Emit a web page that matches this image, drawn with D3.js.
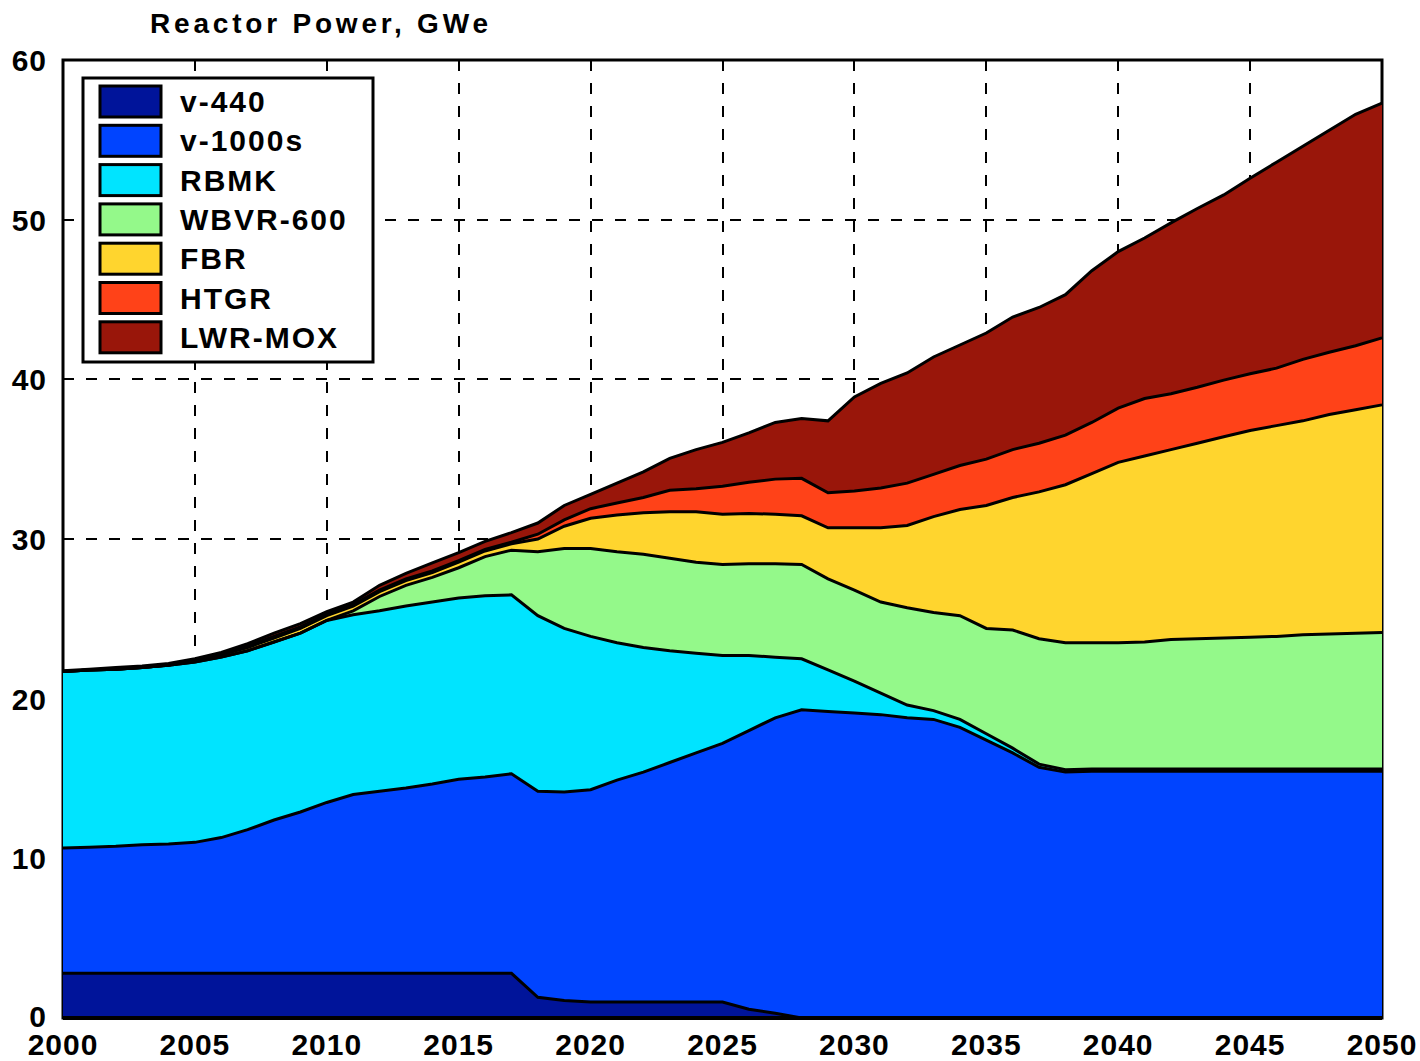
<!DOCTYPE html>
<html>
<head>
<meta charset="utf-8">
<script src="https://cdn.jsdelivr.net/npm/d3@7"></script>
<style>
  body { margin:0; background:#fff; }
  text { font-family:"Liberation Sans", Arial, sans-serif; font-weight:bold; fill:#000; }
</style>
</head>
<body>
<div id="chart"></div>
<script>
// yearly values, GWe, 2000..2050
var years = d3.range(2000, 2051)
var xTicks = [2000,2005,2010,2015,2020,2025,2030,2035,2040,2045,2050]
var yTicks = [0,10,20,30,40,50,60]

var v440 = [2.8,2.8,2.8,2.8,2.8,2.8,2.8,2.8,2.8,2.8,
	    2.8,2.8,2.8,2.8,2.8,2.8,2.8,2.8,1.3,1.1,
	    1.0,1.0,1.0,1.0,1.0,1.0,0.55,0.3,0,0,
	    0,0,0,0,0,0,0,0,0,0,
	    0,0,0,0,0,0,0,0,0,0,
	    0]
var v1000 = [7.85,7.9,7.95,8.05,8.1,8.2,8.5,9.0,9.6,10.1,
	     10.7,11.2,11.4,11.6,11.85,12.15,12.3,12.5,12.9,13.05,
	     13.3,13.9,14.4,15.0,15.6,16.2,17.45,18.5,19.3,19.2,
	     19.1,19.0,18.8,18.7,18.2,17.4,16.6,15.7,15.4,15.45,
	     15.45,15.45,15.45,15.45,15.45,15.45,15.45,15.45,15.45,15.45,
	     15.45]
var rbmk = [11.05,11.1,11.1,11.1,11.2,11.3,11.3,11.2,11.15,11.2,
	    11.4,11.25,11.3,11.4,11.4,11.35,11.35,11.2,11.0,10.25,
	    9.6,8.6,7.8,7.0,6.25,5.5,4.7,3.8,3.2,2.6,
	    2.0,1.35,0.8,0.55,0.5,0.4,0.3,0.2,0.15,0.15,
	    0.15,0.15,0.15,0.15,0.15,0.15,0.15,0.15,0.15,0.15,
	    0.15]
var wbvr = [0,0,0,0,0,0,0,0,0,0,
	    0,0.25,0.9,1.3,1.55,1.9,2.45,2.8,4.0,5.0,
	    5.5,5.7,5.85,5.8,5.7,5.7,5.75,5.85,5.9,5.7,
	    5.7,5.7,6.1,6.15,6.5,6.6,7.4,7.85,7.95,7.9,
	    7.9,7.95,8.1,8.15,8.2,8.25,8.3,8.4,8.45,8.5,
	    8.55]
var fbr = [0,0,0,0,0,0.1,0.15,0.2,0.25,0.3,
	   0.3,0.3,0.3,0.3,0.3,0.35,0.35,0.4,0.8,1.4,
	   1.9,2.3,2.6,2.9,3.15,3.15,3.15,3.1,3.05,3.2,
	   3.9,4.65,5.15,6.0,6.65,7.7,8.3,9.2,9.9,10.6,
	   11.3,11.65,11.9,12.25,12.6,12.95,13.2,13.4,13.75,14.0,
	   14.25]
var htgr = [0,0,0,0,0,0,0.05,0.1,0.1,0.1,
	    0.1,0.1,0.1,0.1,0.1,0.1,0.1,0.1,0.3,0.4,
	    0.6,0.75,0.95,1.35,1.45,1.75,1.95,2.2,2.35,2.2,
	    2.3,2.5,2.65,2.65,2.75,2.9,3.0,3.05,3.1,3.2,
	    3.4,3.6,3.5,3.5,3.55,3.55,3.6,3.85,3.9,4.0,
	    4.2]
var mox = [0.05,0.05,0.1,0.1,0.1,0.1,0.1,0.15,0.2,0.2,
	   0.15,0.15,0.3,0.35,0.5,0.5,0.5,0.6,0.7,0.9,
	   0.9,1.25,1.6,2.0,2.45,2.75,3.1,3.55,3.75,4.5,
	   5.9,6.55,6.9,7.35,7.55,7.9,8.3,8.5,8.8,9.5,
	   9.8,10.05,10.7,11.2,11.6,12.25,12.9,13.35,13.9,14.5,
	   14.7]

var names = ['v-440','v-1000s','RBMK','WBVR-600','FBR','HTGR','LWR-MOX']
var series = [v440, v1000, rbmk, wbvr, fbr, htgr, mox]
var colors = ['#00149a','#0044ff','#00e4ff','#94f98a','#ffd52e','#ff4218','#99160a']

var W=1420, H=1061
var pl=63, pr=1382, pt=60, pb=1018

var rows = years.map(function(yr,i){
    var r={year:yr}
    names.forEach(function(n,k){ r[n]=series[k][i] })
    return r
})

var x=d3.scaleLinear().domain([2000,2050]).range([pl,pr])
var y=d3.scaleLinear().domain([0,60]).range([pb,pt])

var svg=d3.select('#chart').append('svg')
    .attr('width',W).attr('height',H)

// frame + dashed grid behind the areas
svg.append('rect')
    .attr('x',pl).attr('y',pt)
    .attr('width',pr-pl).attr('height',pb-pt)
    .attr('fill','none').attr('stroke','#000').attr('stroke-width',3)

var grid=svg.append('g').attr('stroke','#000').attr('stroke-width',2)
    .attr('stroke-dasharray','11,12').attr('shape-rendering','crispEdges')
grid.selectAll('.gx').data(xTicks.slice(1,-1)).enter().append('line')
    .attr('x1',function(d){return x(d)}).attr('x2',function(d){return x(d)})
    .attr('y1',pt).attr('y2',pb)
grid.selectAll('.gy').data(yTicks.slice(1,-1)).enter().append('line')
    .attr('y1',function(d){return y(d)}).attr('y2',function(d){return y(d)})
    .attr('x1',pl).attr('x2',pr)

var stack=d3.stack().keys(names)
var layers=stack(rows)

var area=d3.area()
    .x(function(d){return x(d.data.year)})
    .y0(function(d){return y(d[0])})
    .y1(function(d){return y(d[1])})
var topLine=d3.line()
    .x(function(d){return x(d.data.year)})
    .y(function(d){return y(d[1])})

svg.append('g').selectAll('path').data(layers).enter().append('path')
    .attr('d',area)
    .attr('fill',function(d,i){return colors[i]})

svg.append('g').selectAll('path').data(layers).enter().append('path')
    .attr('d',topLine)
    .attr('fill','none').attr('stroke','#000').attr('stroke-width',3)

// baseline on top
svg.append('line').attr('x1',pl).attr('x2',pr)
    .attr('y1',pb).attr('y2',pb)
    .attr('stroke','#000').attr('stroke-width',4)

// tick labels
svg.append('g').selectAll('text').data(yTicks).enter().append('text')
    .attr('x',47).attr('y',function(d){return d==0 ? y(d)+9 : y(d)+11})
    .attr('text-anchor','end')
    .style('font-size','30px').style('letter-spacing','1px')
    .text(function(d){return d})
svg.append('g').selectAll('text').data(xTicks).enter().append('text')
    .attr('x',function(d){return x(d)}).attr('y',1055)
    .attr('text-anchor','middle')
    .style('font-size','30px').style('letter-spacing','1px')
    .text(function(d){return d})

svg.append('text').attr('x',150).attr('y',33)
    .style('font-size','28px').style('letter-spacing','3.8px')
    .text('Reactor Power, GWe')

// legend
var lg=svg.append('g')
lg.append('rect').attr('x',83).attr('y',78).attr('width',290).attr('height',284)
    .attr('fill','#fff').attr('stroke','#000').attr('stroke-width',3)
var item=lg.selectAll('.item').data(names).enter().append('g')
    .attr('transform',function(d,i){return 'translate(0,'+(101+i*39.3)+')'})
item.append('rect').attr('x',100).attr('y',-15).attr('width',61).attr('height',31)
    .attr('fill',function(d,i){return colors[i]})
    .attr('stroke','#000').attr('stroke-width',3)
item.append('text').attr('x',180).attr('y',11)
    .style('font-size','30px').style('letter-spacing','2px')
    .text(function(d){return d})
</script>
</body>
</html>
